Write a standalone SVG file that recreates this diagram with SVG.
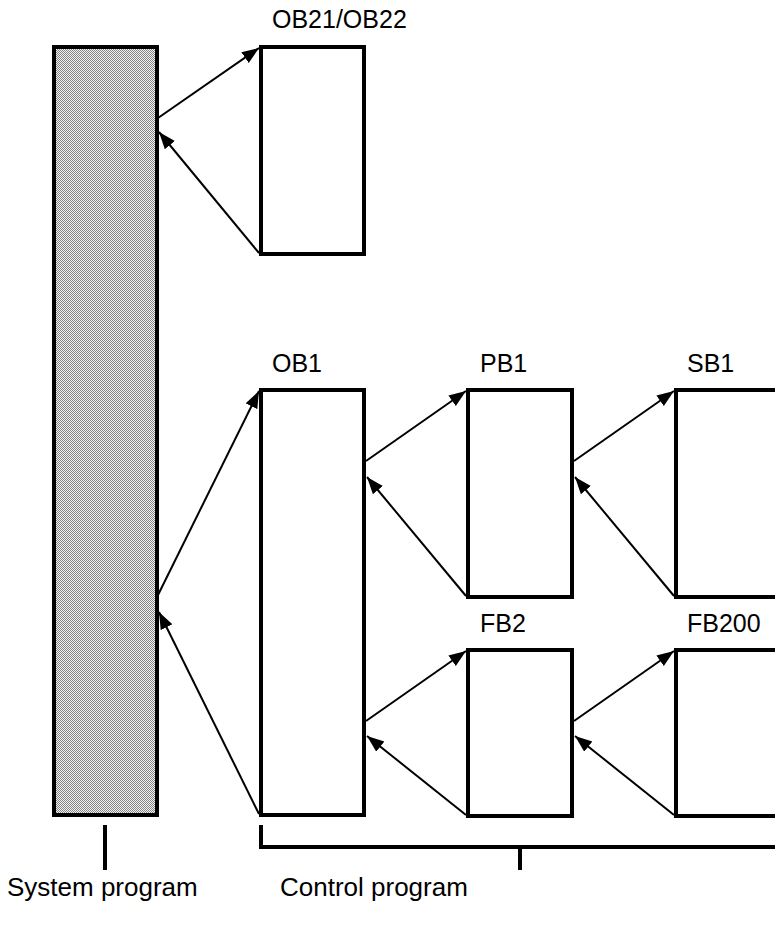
<svg xmlns="http://www.w3.org/2000/svg" width="775" height="934" viewBox="0 0 775 934">
<style>
.box{fill:#fff;stroke:#000;stroke-width:4}
.con{stroke:#000;stroke-width:2;fill:none;marker-end:url(#ah)}
.lbl{font-family:"Liberation Sans",Arial,sans-serif;font-size:25px;fill:#000}
.bl{font-family:"Liberation Sans",Arial,sans-serif;font-size:26px;fill:#000}
.brk{stroke:#000;stroke-width:4;fill:none}
</style>
<defs>
<pattern id="dots" width="2" height="2" patternUnits="userSpaceOnUse">
<rect width="2" height="2" fill="#f2f2f2"/>
<rect width="1" height="1" fill="#858585"/>
<rect x="1" y="1" width="1" height="1" fill="#858585"/>
</pattern>
<marker id="ah" markerUnits="userSpaceOnUse" markerWidth="18" markerHeight="14" refX="17" refY="6.5" orient="auto">
<path d="M0,0 L17,6.5 L0,13 z" fill="#000"/>
</marker>
</defs>
<rect width="775" height="934" fill="#fff"/>
<g id="system">
<rect x="54" y="47" width="103" height="768" fill="url(#dots)" stroke="#000" stroke-width="4"/>
</g>
<g id="ob21">
<rect class="box" x="261" y="47" width="103" height="207"/>
<text class="lbl" x="272" y="28">OB21/OB22</text>
</g>
<g id="ob1">
<rect class="box" x="261" y="390" width="103" height="425"/>
<text class="lbl" x="272" y="372">OB1</text>
</g>
<g id="pb1">
<rect class="box" x="468" y="390" width="104" height="207"/>
<text class="lbl" x="480" y="372">PB1</text>
</g>
<g id="sb1">
<rect class="box" x="676" y="390" width="130" height="207"/>
<text class="lbl" x="687" y="372">SB1</text>
</g>
<g id="fb2">
<rect class="box" x="468" y="650" width="104" height="166"/>
<text class="lbl" x="480" y="632">FB2</text>
</g>
<g id="fb200">
<rect class="box" x="676" y="650" width="130" height="166"/>
<text class="lbl" x="687" y="632">FB200</text>
</g>
<g id="connectors">
<line class="con" x1="158" y1="118" x2="259" y2="48"/>
<line class="con" x1="259" y1="253" x2="159" y2="132"/>
<line class="con" x1="158" y1="595" x2="259" y2="391"/>
<line class="con" x1="259" y1="814" x2="159" y2="612"/>
<line class="con" x1="366" y1="461" x2="466" y2="391"/>
<line class="con" x1="466" y1="596" x2="367" y2="477"/>
<line class="con" x1="574" y1="461" x2="674" y2="391"/>
<line class="con" x1="674" y1="596" x2="575" y2="477"/>
<line class="con" x1="366" y1="721" x2="466" y2="651"/>
<line class="con" x1="466" y1="815" x2="367" y2="736"/>
<line class="con" x1="574" y1="721" x2="674" y2="651"/>
<line class="con" x1="674" y1="815" x2="575" y2="736"/>
</g>
<g id="brackets">
<path class="brk" d="M105,825 V870"/>
<path class="brk" d="M261,825 V847 H780"/>
<path class="brk" d="M520,847 V870"/>
<text class="bl" x="7" y="896">System program</text>
<text class="bl" x="280" y="896">Control program</text>
</g>
</svg>
